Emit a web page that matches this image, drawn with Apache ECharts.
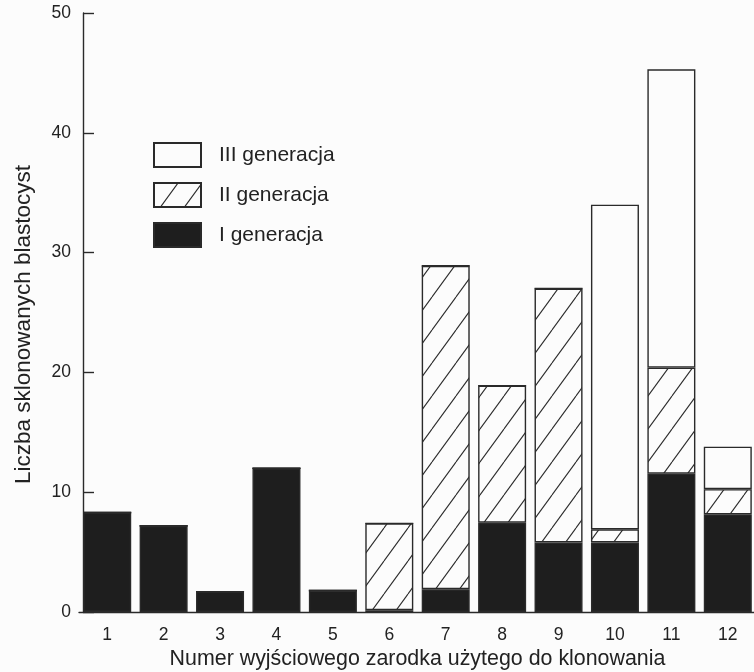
<!DOCTYPE html>
<html>
<head>
<meta charset="utf-8">
<script src="https://cdn.jsdelivr.net/npm/echarts@6/dist/echarts.min.js"></script>
<style>
html,body{margin:0;padding:0;background:#fcfcfc;}
#chart{width:754px;height:672px;}
</style>
</head>
<body>
<div id="chart"></div>
<script>
var categories = ['1','2','3','4','5','6','7','8','9','10','11','12'];
var gen1 = [8.3, 7.2, 1.7, 12.0, 1.8, 0.15, 1.9, 7.45, 5.8, 5.8, 11.55, 8.15];
var gen2 = [0, 0, 0, 0, 0, 7.25, 27.0, 11.45, 21.2, 1.1, 8.85, 2.1];
var gen3 = [0, 0, 0, 0, 0, 0, 0, 0, 0, 27.1, 24.9, 3.55];
var yTicks = [0, 10, 20, 30, 40, 50];
var seriesNames = ['I generacja', 'II generacja', 'III generacja'];

function hatch() {
  var w = 24, h = 33;
  var c = document.createElement('canvas');
  c.width = w; c.height = h;
  var g = c.getContext('2d');
  g.fillStyle = '#fcfcfc';
  g.fillRect(0, 0, w, h);
  g.strokeStyle = '#2a2a2a';
  g.lineWidth = 1.1;
  [-w, 0, w].forEach(function (dx) {
    g.beginPath();
    g.moveTo(dx, h);
    g.lineTo(dx + w, 0);
    g.stroke();
  });
  return c;
}

var chart = echarts.init(document.getElementById('chart'), null, {renderer: 'canvas'});
var border = {borderColor: '#2a2a2a', borderWidth: 1.4};
var font = 'Liberation Sans, Arial, sans-serif';

chart.setOption({
  backgroundColor: '#fcfcfc',
  animation: false,
  textStyle: {fontFamily: font, color: '#222'},
  grid: {left: 79, right: -2, top: 13, bottom: 60, containLabel: false, outerBoundsMode: 'none'},
  legend: {
    orient: 'vertical',
    left: 148, top: 137,
    padding: 5,
    itemWidth: 47, itemHeight: 24, itemGap: 14,
    icon: 'rect',
    data: ['III generacja', 'II generacja', 'I generacja'],
    textStyle: {fontSize: 21, color: '#222', fontFamily: font, padding: [0, 0, 0, 13]}
  },
  xAxis: {
    type: 'category',
    data: categories,
    name: 'Numer wyjściowego zarodka użytego do klonowania',
    nameLocation: 'middle',
    nameGap: 34,
    nameTextStyle: {fontSize: 21.4, color: '#222', fontFamily: font},
    axisLine: {lineStyle: {color: '#2a2a2a', width: 1.4}},
    axisTick: {show: false},
    axisLabel: {fontSize: 17.5, color: '#222', margin: 14, fontFamily: font}
  },
  yAxis: {
    type: 'value',
    min: 0, max: 50, interval: 10,
    offset: -4,
    name: 'Liczba sklonowanych blastocyst',
    nameLocation: 'middle',
    nameGap: 48,
    nameTextStyle: {fontSize: 22.5, color: '#222', fontFamily: font, padding: [0, 24, 0, 0]},
    axisLine: {show: true, lineStyle: {color: '#2a2a2a', width: 1.4}},
    axisTick: {show: true, inside: true, length: 11, lineStyle: {color: '#2a2a2a', width: 1.4}},
    splitLine: {show: false},
    axisLabel: {fontSize: 17.5, color: '#222', margin: 12, fontFamily: font,
      formatter: function (v) { return yTicks.indexOf(v) >= 0 ? String(v) : ''; }}
  },
  series: [
    {name: seriesNames[0], type: 'bar', stack: 'g', barWidth: 48, data: gen1,
     itemStyle: Object.assign({color: '#1e1e1e'}, border)},
    {name: seriesNames[1], type: 'bar', stack: 'g', barWidth: 48, data: gen2,
     itemStyle: Object.assign({color: {image: hatch(), repeat: 'repeat'}}, border)},
    {name: seriesNames[2], type: 'bar', stack: 'g', barWidth: 48, data: gen3,
     itemStyle: Object.assign({color: '#fcfcfc'}, border)}
  ]
});
</script>
</body>
</html>
